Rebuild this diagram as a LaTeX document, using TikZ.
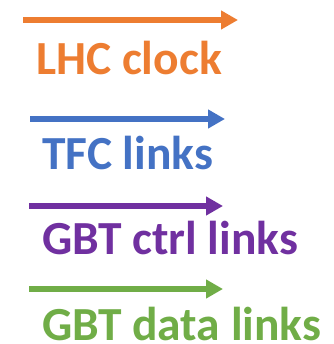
\documentclass[tikz,border=0pt]{standalone}
\usepackage{fontspec}
\setmainfont{Carlito}
\usepackage{tikz}
\usetikzlibrary{positioning, arrows.meta}
\definecolor{clockColor}{RGB}{237, 125, 49}
\definecolor{tfcColor}{RGB}{68, 114, 196}
\definecolor{ctrlColor}{RGB}{112, 48, 160}
\definecolor{dataColor}{RGB}{112, 173, 71}

\begin{document}
\begin{tikzpicture}[
        x=1pt, y=1pt,
        legend/.style={
            anchor=base west,
            inner sep=0pt,
            font=\fontsize{47.5}{47.5}\selectfont\bfseries
        },
        flecha/.style={
            -{Triangle[length=17pt,width=18pt]},
            line width=6pt
        }
    ]
    \useasboundingbox (0,0) rectangle (333,344);

    % arrow ends
    \coordinate (clockA) at (23,324);
    \coordinate (clockB) at (238,324);
    \coordinate (tfcA) at (30,225);
    \coordinate (tfcB) at (225,225);
    \coordinate (ctrlA) at (29,138);
    \coordinate (ctrlB) at (223,138);
    \coordinate (dataA) at (29,55);
    \coordinate (dataB) at (223,55);

    \node[legend, text=clockColor] (clock) at (36,269) {LHC clock};
    \node[legend, text=tfcColor] (tfc) at (42,174) {TFC links};
    \node[legend, text=ctrlColor] (ctrl) at (42,89) {GBT ctrl links};
    \node[legend, text=dataColor] (data) at (42,4) {GBT data links};

    \draw[flecha, clockColor] (clockA) -- (clockB);
    \draw[flecha, tfcColor] (tfcA) -- (tfcB);
    \draw[flecha, ctrlColor] (ctrlA) -- (ctrlB);
    \draw[flecha, dataColor] (dataA) -- (dataB);

\end{tikzpicture}
\end{document}
